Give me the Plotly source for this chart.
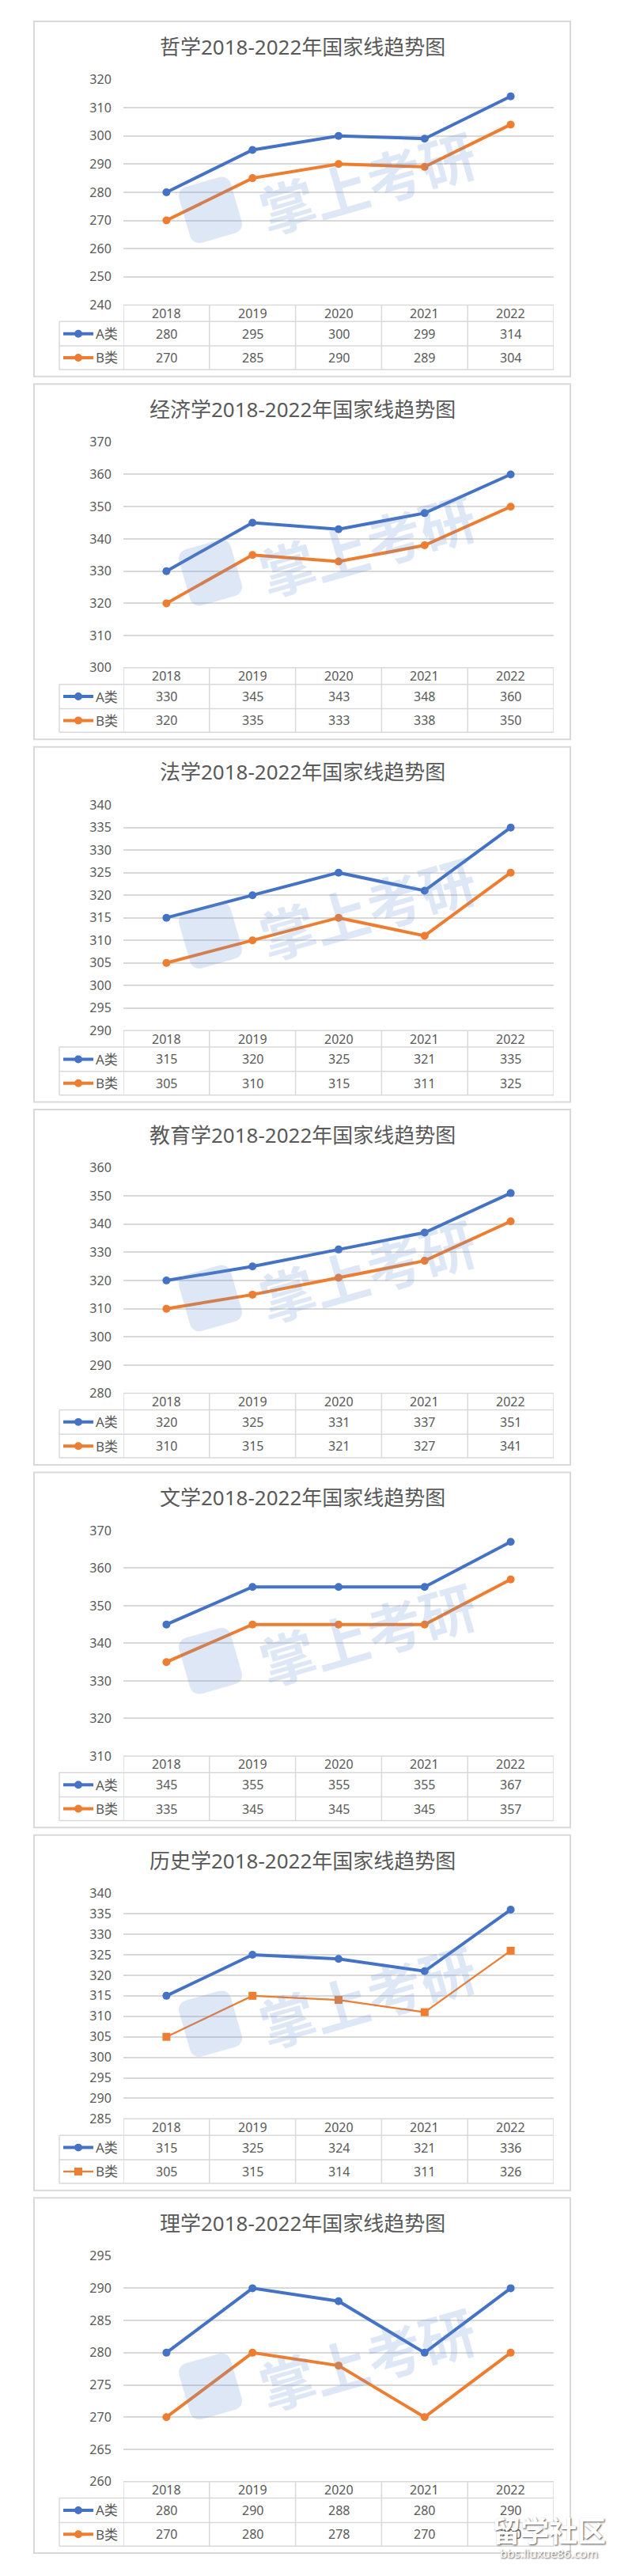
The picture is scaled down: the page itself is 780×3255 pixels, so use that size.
import math
import plotly.graph_objects as go

# ---------------- data ----------------
years = ["2018", "2019", "2020", "2021", "2022"]
subjects = ["哲学", "经济学", "法学", "教育学", "文学", "历史学", "理学"]
series_names = ["A类", "B类"]

phil_a = [280, 295, 300, 299, 314]
phil_b = [270, 285, 290, 289, 304]
econ_a = [330, 345, 343, 348, 360]
econ_b = [320, 335, 333, 338, 350]
law_a = [315, 320, 325, 321, 335]
law_b = [305, 310, 315, 311, 325]
edu_a = [320, 325, 331, 337, 351]
edu_b = [310, 315, 321, 327, 341]
lit_a = [345, 355, 355, 355, 367]
lit_b = [335, 345, 345, 345, 357]
hist_a = [315, 325, 324, 321, 336]
hist_b = [305, 315, 314, 311, 326]
sci_a = [280, 290, 288, 280, 290]
sci_b = [270, 280, 278, 270, 280]

a_series = [phil_a, econ_a, law_a, edu_a, lit_a, hist_a, sci_a]
b_series = [phil_b, econ_b, law_b, edu_b, lit_b, hist_b, sci_b]

y_min = [240, 300, 290, 280, 310, 285, 260]
y_max = [320, 370, 340, 360, 370, 340, 295]
y_step = [10, 10, 5, 10, 10, 5, 5]

# ---------------- style / layout ----------------
W, H = 780, 3255
BLUE = "#4472C4"
ORANGE = "#ED7D31"
TEXT = "#595959"
GRID = "#d9d9d9"
WM = "rgba(100,140,210,0.21)"
FONT = "Noto Sans, Noto Sans CJK SC, sans-serif"

PANEL_X0, PANEL_X1 = 43, 721
PLOT_X0, PLOT_X1 = 156, 700
LEG_X0 = 75
PANEL_H = 452
PITCH = 461.5
TOP0 = 16


def px(x):
    return x / W


def py(y):
    return 1 - y / H


fig = go.Figure()
shapes = []
annots = []
layout_axes = {}


def rrect_path(cx, cy, w, h, r, ang):
    pts = []
    corners = [(w / 2 - r, -h / 2 + r, -90, 0), (w / 2 - r, h / 2 - r, 0, 90),
               (-w / 2 + r, h / 2 - r, 90, 180), (-w / 2 + r, -h / 2 + r, 180, 270)]
    for (ccx, ccy, a0, a1) in corners:
        for k in range(7):
            t = math.radians(a0 + (a1 - a0) * k / 6)
            pts.append((ccx + r * math.cos(t), ccy + r * math.sin(t)))
    a = math.radians(ang)
    out = []
    for dx, dy in pts:
        X = cx + dx * math.cos(a) + dy * math.sin(a)
        Y = cy - dx * math.sin(a) + dy * math.cos(a)
        out.append((px(X), py(Y)))
    return "M " + " L ".join(f"{x:.5f},{y:.5f}" for x, y in out) + " Z"


for i, subj in enumerate(subjects):
    n = i + 1
    xa = f"x{n}" if n > 1 else "x"
    ya = f"y{n}" if n > 1 else "y"
    top = TOP0 + i * PITCH
    g_top = top + 74
    g_bot = top + 361
    h_bot = top + 382
    a_bot = top + 413
    b_bot = top + 443

    layout_axes[f"xaxis{n}" if n > 1 else "xaxis"] = dict(
        domain=[px(PLOT_X0), px(PLOT_X1)], anchor=ya, type="category",
        range=[-0.5, 4.5], showticklabels=False, showgrid=False,
        zeroline=False, showline=False, ticks="")
    layout_axes[f"yaxis{n}" if n > 1 else "yaxis"] = dict(
        domain=[py(g_bot), py(g_top)], anchor=xa, range=[y_min[i], y_max[i]],
        dtick=y_step[i], tick0=y_min[i], showgrid=True, gridcolor=GRID,
        gridwidth=1.5, zeroline=False, showline=False, ticks="outside",
        ticklen=11, tickcolor="rgba(0,0,0,0)",
        tickfont=dict(size=16, color=TEXT, family=FONT))

    is_hist = subj == "历史学"
    fig.add_trace(go.Scatter(
        x=years, y=a_series[i], mode="lines+markers", name=series_names[0],
        line=dict(color=BLUE, width=4), marker=dict(size=10, color=BLUE),
        xaxis=xa, yaxis=ya, showlegend=False, cliponaxis=False))
    fig.add_trace(go.Scatter(
        x=years, y=b_series[i], mode="lines+markers", name=series_names[1],
        line=dict(color=ORANGE, width=2.25 if is_hist else 4),
        marker=dict(size=10, color=ORANGE,
                    symbol="square" if is_hist else "circle"),
        xaxis=xa, yaxis=ya, showlegend=False, cliponaxis=False))

    # panel border
    shapes.append(dict(type="rect", xref="paper", yref="paper",
                       x0=px(PANEL_X0), x1=px(PANEL_X1), y0=py(top + PANEL_H), y1=py(top),
                       line=dict(color=GRID, width=2), layer="below"))
    # title
    annots.append(dict(text=f"{subj}2018-2022年国家线趋势图", xref="paper", yref="paper",
                       x=px((PANEL_X0 + PANEL_X1) / 2), y=py(top + 32),
                       xanchor="center", yanchor="middle", showarrow=False,
                       font=dict(size=26, color=TEXT, family=FONT)))

    # data table lines
    shapes.append(dict(type="line", xref="paper", yref="paper", x0=px(PLOT_X0), x1=px(PLOT_X1),
                       y0=py(g_bot), y1=py(g_bot), line=dict(color=GRID, width=1.5)))
    for yy in (h_bot, a_bot, b_bot):
        shapes.append(dict(type="line", xref="paper", yref="paper", x0=px(LEG_X0), x1=px(PLOT_X1),
                           y0=py(yy), y1=py(yy), line=dict(color=GRID, width=1.5)))
    shapes.append(dict(type="line", xref="paper", yref="paper", x0=px(LEG_X0), x1=px(LEG_X0),
                       y0=py(h_bot), y1=py(b_bot), line=dict(color=GRID, width=1.5)))
    for k in range(len(years) + 1):
        shapes.append(dict(type="line", xref=xa, yref="paper", x0=k - 0.5, x1=k - 0.5,
                           y0=py(g_bot), y1=py(b_bot), line=dict(color=GRID, width=1.5)))

    # table text (category index positions on the subplot's x axis)
    rows = [((g_bot + h_bot) / 2, years),
            ((h_bot + a_bot) / 2, [str(v) for v in a_series[i]]),
            ((a_bot + b_bot) / 2, [str(v) for v in b_series[i]])]
    for yc, vals in rows:
        for j, v in enumerate(vals):
            annots.append(dict(text=v, xref=xa, yref="paper", x=j, y=py(yc),
                               xanchor="center", yanchor="middle", showarrow=False,
                               font=dict(size=16, color=TEXT, family=FONT)))

    # legend keys
    for (yc, col, nm, sq) in [((h_bot + a_bot) / 2, BLUE, series_names[0], False),
                              ((a_bot + b_bot) / 2, ORANGE, series_names[1], is_hist)]:
        lw = 2.25 if sq else 4
        shapes.append(dict(type="line", xref="paper", yref="paper", x0=px(80), x1=px(118),
                           y0=py(yc), y1=py(yc), line=dict(color=col, width=lw)))
        r = 5
        shapes.append(dict(type="rect" if sq else "circle", xref="paper", yref="paper",
                           x0=px(99 - r), x1=px(99 + r), y0=py(yc + r), y1=py(yc - r),
                           fillcolor=col, line=dict(color=col, width=0)))
        annots.append(dict(text=nm, xref="paper", yref="paper", x=px(151), y=py(yc),
                           xanchor="right", yanchor="middle", showarrow=False,
                           font=dict(size=17, color=TEXT, family=FONT)))

    # faint watermark (掌上考研)
    shapes.append(dict(type="path", xref="paper", yref="paper",
                       path=rrect_path(266, top + 240, 68, 74, 12, 16),
                       fillcolor=WM, line=dict(width=0), layer="above"))
    annots.append(dict(text="<b>掌上考研</b>", xref="paper", yref="paper",
                       x=px(464), y=py(top + 203), xanchor="center", yanchor="middle",
                       textangle=-16, showarrow=False,
                       font=dict(size=70, color=WM, family="Noto Sans CJK SC")))

# bottom-right site watermark
annots.append(dict(text="<b>留学社区</b>", xref="paper", yref="paper", x=px(694), y=py(3207),
                   xanchor="center", yanchor="middle", showarrow=False,
                   font=dict(size=36, color="white", family="Noto Sans CJK SC",
                             shadow="1px 1px 2px rgb(80,80,80)")))
annots.append(dict(text="bbs.liuxue86.com", xref="paper", yref="paper", x=px(694), y=py(3237),
                   xanchor="center", yanchor="middle", showarrow=False,
                   font=dict(size=15, color="white", family=FONT,
                             shadow="1px 1px 2px rgb(80,80,80)")))

fig.update_layout(
    width=W, height=H, margin=dict(l=0, r=0, t=0, b=0),
    paper_bgcolor="white", plot_bgcolor="white",
    font=dict(family=FONT, color=TEXT),
    shapes=shapes, annotations=annots, showlegend=False,
    **layout_axes)

fig.write_html("out.html", config={"displayModeBar": False},
               post_script="document.body.style.margin='0';")
